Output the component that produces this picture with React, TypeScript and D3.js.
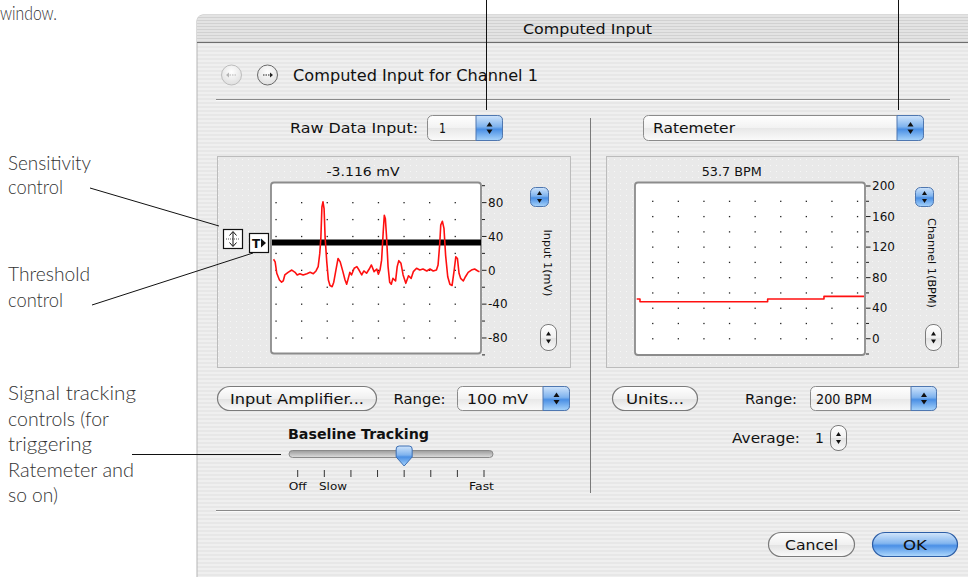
import React from "react";
import * as d3 from "d3";

// ---------- data ----------
const ecgTime = [0.01,0.04,0.07,0.12,0.16,0.19,0.22,0.28,0.35,0.41,0.45,0.50,0.56,0.63,0.69,0.75,0.80,0.84,0.87,0.89,0.91,0.93,0.95,0.97,1.00,1.03,1.06,1.10,1.13,1.17,1.21,1.25,1.30,1.34,1.37,1.40,1.43,1.46,1.51,1.56,1.60,1.65,1.69,1.74,1.79,1.83,1.88,1.93,1.96,1.99,2.02,2.05,2.07,2.09,2.11,2.14,2.17,2.20,2.23,2.28,2.31,2.34,2.38,2.42,2.47,2.52,2.57,2.61,2.67,2.73,2.79,2.86,2.92,2.98,3.04,3.07,3.10,3.12,3.15,3.18,3.21,3.25,3.29,3.33,3.37,3.40,3.43,3.46,3.49,3.54,3.58,3.63,3.69,3.75,3.81,3.84];
const ecgValue = [13,10,-3.5,-11.5,-14,-12.6,-5.5,-2.4,0.3,-2.4,-5.5,-4,-5.5,-4,-2.4,-4,-0.8,4.3,20,38,75,81,73,38,10,-11.5,-18,-19.4,-14,0.3,14,10,-1.6,-11.5,-16.5,-9.5,-2.4,-5.5,2.4,4.3,0.3,-5.5,-0.8,-3.5,1.5,6.3,-1.6,1.5,-4.7,0.3,12,45.6,65,61,41.7,4.3,-14,-16.5,-9.5,-12.6,4.3,11.4,8.3,-5.5,-15.4,-6.4,-9.5,-1.6,2.4,0.3,1.5,-0.8,1.5,-0.8,0.3,6.3,30,53.5,58,49.6,18,-7.6,-16.5,-18,0.3,16,14,-3.5,-9.5,-12.6,-7.6,-2.4,0.3,1.5,-0.8,-1.6];
const thresholdValue = 33;
const inputReadout = "-3.116 mV";

const rateTime = [0.22, 0.65, 17.3, 24.65, 30];
const rateValue = [52, 48.5, 52, 55.5, 55.5];
const rateReadout = "53.7 BPM";

const inputMajorTicks = [80, 40, 0, -40, -80];
const inputMinorTicks = [100, 60, 20, -20, -60, -100];
const inputGridRows = [80, 60, 40, 20, 0, -20, -40, -60, -80];
const rateMajorTicks = [200, 160, 120, 80, 40, 0];
const rateMinorTicks = [180, 140, 100, 60, 20, -20];
const rateGridRows = [180, 160, 140, 120, 100, 80, 60, 40, 20, 0];

const sliderSteps = [0, 1, 2, 3, 4, 5, 6, 7];
const sliderValue = 4;

// ---------- scales ----------
const xL = d3.scaleLinear().domain([0, 3.85]).range([273, 480]);
const yL = d3.scaleLinear().domain([-100, 100]).range([354.9, 185.7]);
const xR = d3.scaleLinear().domain([0, 30]).range([635, 865]);
const yR = d3.scaleLinear().domain([-20, 200]).range([354, 186]);
const xS = d3.scaleLinear().domain([0, 7]).range([297.7, 484]);

const UI = "'Lucida Grande', 'DejaVu Sans', sans-serif";
const ANN = "Lato, 'Open Sans', 'DejaVu Sans', sans-serif";

function Popup({ x, y, w, h, arrowW, label, textX, textW }: any) {
  const ax = x + w - arrowW;
  const r = 5;
  const cx = ax + arrowW / 2;
  const cy = y + h / 2;
  return (
    <g>
      <rect x={x + 0.5} y={y + 0.5} width={w - 1} height={h - 1} rx={r} fill="url(#popBody)" stroke="#8b8b8b" />
      <path
        d={`M${ax},${y + 0.5} H${x + w - r - 0.5} Q${x + w - 0.5},${y + 0.5} ${x + w - 0.5},${y + r + 0.5} V${y + h - r - 0.5} Q${x + w - 0.5},${y + h - 0.5} ${x + w - r - 0.5},${y + h - 0.5} H${ax} Z`}
        fill="url(#aquaBlue)" stroke="#4f77b0" />
      <path d={`M${cx - 3},${cy - 1.5} L${cx + 3},${cy - 1.5} L${cx},${cy - 6} Z`} fill="#111" />
      <path d={`M${cx - 3},${cy + 1.5} L${cx + 3},${cy + 1.5} L${cx},${cy + 6} Z`} fill="#111" />
      <text x={textX} y={cy + 5} fontFamily={UI} fontSize={14} fill="#111" textLength={textW} lengthAdjust="spacingAndGlyphs">{label}</text>
    </g>
  );
}

function Pill({ x, y, w, h, label, textW, blue }: any) {
  return (
    <g>
      <rect x={x + 0.5} y={y + 0.5} width={w - 1} height={h - 1} rx={h / 2} fill={blue ? "url(#aquaBluePill)" : "url(#btnBody)"} stroke={blue ? "#2d5ea6" : "#7b7b7b"} strokeWidth={1.2} />
      <text x={x + w / 2} y={y + h / 2 + 5} textAnchor="middle" fontFamily={UI} fontSize={14} fill="#111" textLength={textW} lengthAdjust="spacingAndGlyphs">{label}</text>
    </g>
  );
}

function Stepper({ x, y, w, h, blue }: any) {
  const cx = x + w / 2, cy = y + h / 2;
  return (
    <g>
      <rect x={x + 0.5} y={y + 0.5} width={w - 1} height={h - 1} rx={blue ? 5 : Math.min(w, h) / 2 - 1} fill={blue ? "url(#aquaBlue)" : "url(#btnBody)"} stroke={blue ? "#4f77b0" : "#7b7b7b"} />
      <path d={`M${cx - 2.5},${cy - 2} L${cx + 2.5},${cy - 2} L${cx},${cy - 6} Z`} fill="#111" />
      <path d={`M${cx - 2.5},${cy + 2} L${cx + 2.5},${cy + 2} L${cx},${cy + 6} Z`} fill="#111" />
    </g>
  );
}

function Plot({ x0, x1, y0, y1, xScale, yScale, times, values, curve, gridCols, gridRows, major, minor, readout, readoutX, readoutW, axisTitle, axisTitleX, axisTitleW, clipId, threshold }: any) {
  const line = d3.line<number>().x((_, i) => xScale(times[i])).y((d) => yScale(d)).curve(curve);
  const ax = x1 + 1;
  return (
    <g>
      <text x={readoutX} y={175.5} textAnchor="middle" fontFamily={UI} fontSize={12.5} fill="#111" textLength={readoutW} lengthAdjust="spacingAndGlyphs">{readout}</text>
      <rect x={x0} y={y0} width={x1 - x0} height={y1 - y0} rx={3} fill="#fff" stroke="#8c8c8c" strokeWidth={1.8} />
      <clipPath id={clipId}><rect x={x0 + 1} y={y0 + 1} width={x1 - x0 - 2} height={y1 - y0 - 2} /></clipPath>
      {gridRows.map((r: number) => gridCols.map((c: number) => (
        <rect key={`${r}-${c}`} x={c - 0.6} y={yScale(r) - 0.6} width={1.3} height={1.3} fill="#222" />
      )))}
      {threshold !== undefined && (
        <line x1={x0 + 1} x2={x1} y1={yScale(threshold)} y2={yScale(threshold)} stroke="#000" strokeWidth={6} />
      )}
      <path d={line(values) || ""} fill="none" stroke="#ff1010" strokeWidth={1.6} clipPath={`url(#${clipId})`} strokeLinejoin="round" />
      {minor.map((t: number) => (
        <line key={`mi${t}`} x1={ax} x2={ax + 3} y1={yScale(t)} y2={yScale(t)} stroke="#222" strokeWidth={1} />
      ))}
      {major.map((t: number) => (
        <g key={`ma${t}`}>
          <line x1={ax} x2={ax + 4.5} y1={yScale(t)} y2={yScale(t)} stroke="#222" strokeWidth={1} />
          <text x={ax + 6} y={yScale(t) + 4.3} fontFamily={UI} fontSize={12} fill="#111">{t < 0 ? "-" + Math.abs(t) : String(t)}</text>
        </g>
      ))}
      <text transform={`translate(${axisTitleX},${263}) rotate(90)`} textAnchor="middle" fontFamily={UI} fontSize={11} fill="#111" textLength={axisTitleW} lengthAdjust="spacingAndGlyphs">{axisTitle}</text>
    </g>
  );
}

export default function App() {
  const leftCols = d3.range(8).map((k) => 276 + 25.6 * k);
  const rightCols = d3.range(9).map((k) => 652.7 + 25.6 * k);
  const thumbX = xS(sliderValue);
  return (
    <svg width={968} height={577} viewBox="0 0 968 577" style={{ position: "absolute", left: 0, top: 0, display: "block" }}>
      <defs>
        <pattern id="stripes" width={4} height={4} patternUnits="userSpaceOnUse">
          <rect width={4} height={4} fill="#efefef" />
          <rect y={2} width={4} height={2} fill="#e7e7e7" />
        </pattern>
        <pattern id="titleStripes" width={3} height={3} patternUnits="userSpaceOnUse">
          <rect width={3} height={3} fill="#e3e3e3" />
          <rect y={2} width={3} height={1} fill="#d1d1d1" />
        </pattern>
        <pattern id="panelDots" width={6} height={6} patternUnits="userSpaceOnUse">
          <rect width={6} height={6} fill="#e9e9e9" />
          <rect x={2} y={3} width={1} height={1} fill="#f7f7f7" />
        </pattern>
        <linearGradient id="popBody" x1="0" y1="0" x2="0" y2="1">
          <stop offset="0" stopColor="#ffffff" />
          <stop offset="0.5" stopColor="#f2f2f2" />
          <stop offset="0.52" stopColor="#e8e8e8" />
          <stop offset="1" stopColor="#fbfbfb" />
        </linearGradient>
        <linearGradient id="btnBody" x1="0" y1="0" x2="0" y2="1">
          <stop offset="0" stopColor="#ffffff" />
          <stop offset="0.5" stopColor="#f0f0f0" />
          <stop offset="0.52" stopColor="#e2e2e2" />
          <stop offset="1" stopColor="#fafafa" />
        </linearGradient>
        <linearGradient id="aquaBlue" x1="0" y1="0" x2="0" y2="1">
          <stop offset="0" stopColor="#cfe4fb" />
          <stop offset="0.45" stopColor="#7fb3ee" />
          <stop offset="0.55" stopColor="#4a8fe4" />
          <stop offset="1" stopColor="#a8d4fb" />
        </linearGradient>
        <linearGradient id="aquaBluePill" x1="0" y1="0" x2="0" y2="1">
          <stop offset="0" stopColor="#d3e6fb" />
          <stop offset="0.45" stopColor="#84b6ef" />
          <stop offset="0.55" stopColor="#4b90e6" />
          <stop offset="1" stopColor="#b1dafd" />
        </linearGradient>
        <linearGradient id="track" x1="0" y1="0" x2="0" y2="1">
          <stop offset="0" stopColor="#9a9a9a" />
          <stop offset="1" stopColor="#dedede" />
        </linearGradient>
        <radialGradient id="navBtn" cx="0.5" cy="0.35" r="0.7">
          <stop offset="0" stopColor="#ffffff" />
          <stop offset="1" stopColor="#dcdcdc" />
        </radialGradient>
      </defs>

      <rect width={968} height={577} fill="#fff" />

      {/* window */}
      <rect x={197} y={15} width={800} height={600} rx={6} fill="url(#stripes)" stroke="#b5b5b5" />
      <path d="M197,42 V21 Q197,15 203,15 H968 V42 Z" fill="url(#titleStripes)" />
      <line x1={197} x2={968} y1={42.5} y2={42.5} stroke="#6e6e6e" />
      <text x={587.5} y={34} textAnchor="middle" fontFamily={UI} fontSize={14.5} fill="#111" textLength={129} lengthAdjust="spacingAndGlyphs">Computed Input</text>

      {/* nav */}
      <circle cx={231.5} cy={75} r={10} fill="url(#navBtn)" stroke="#bdbdbd" />
      <line x1={227} x2={236} y1={75} y2={75} stroke="#b5b5b5" strokeDasharray="1.5 1" />
      <path d="M226,75 L229,72.5 L229,77.5 Z" fill="#b5b5b5" />
      <circle cx={267.5} cy={75} r={10} fill="url(#navBtn)" stroke="#6a6a6a" />
      <line x1={263} x2={270} y1={75} y2={75} stroke="#222" strokeDasharray="1.5 1" />
      <path d="M273,75 L270,72.5 L270,77.5 Z" fill="#222" />
      <text x={293} y={80.5} fontFamily={UI} fontSize={15} fill="#111" textLength={245} lengthAdjust="spacingAndGlyphs">Computed Input for Channel 1</text>

      <line x1={216} x2={950} y1={99.5} y2={99.5} stroke="#8a8a8a" />
      <line x1={216} x2={950} y1={100.5} y2={100.5} stroke="#fafafa" />

      {/* top row */}
      <text x={290} y={133} fontFamily={UI} fontSize={14} fill="#111" textLength={128} lengthAdjust="spacingAndGlyphs">Raw Data Input:</text>
      <Popup x={427} y={115} w={76} h={26} arrowW={27} label="1" textX={439} textW={7} />
      <Popup x={643} y={115} w={281} h={26} arrowW={27} label="Ratemeter" textX={653} textW={82} />

      <line x1={590.5} x2={590.5} y1={118} y2={493} stroke="#7a7a7a" />

      {/* panels */}
      <rect x={217.5} y={156.5} width={353} height={211} fill="url(#panelDots)" stroke="#bcbcbc" />
      <rect x={606.5} y={156.5} width={352} height={211} fill="url(#panelDots)" stroke="#bcbcbc" />

      <Plot x0={271} x1={481} y0={182.5} y1={353.5} xScale={xL} yScale={yL} times={ecgTime} values={ecgValue}
        curve={d3.curveLinear} gridCols={leftCols} gridRows={inputGridRows} major={inputMajorTicks} minor={inputMinorTicks}
        readout={inputReadout} readoutX={363} readoutW={73} axisTitle="Input 1(mV)" axisTitleX={544} axisTitleW={67}
        clipId="clipL" threshold={thresholdValue} />
      <Plot x0={635} x1={865} y0={182.5} y1={355} xScale={xR} yScale={yR} times={rateTime} values={rateValue}
        curve={d3.curveStepAfter} gridCols={rightCols} gridRows={rateGridRows} major={rateMajorTicks} minor={rateMinorTicks}
        readout={rateReadout} readoutX={731.7} readoutW={60} axisTitle="Channel 1(BPM)" axisTitleX={928} axisTitleW={90}
        clipId="clipR" />

      {/* sensitivity & threshold controls */}
      <rect x={223.5} y={229.5} width={19} height={19} fill="#fff" stroke="#111" strokeWidth={1.2} />
      <line x1={226} x2={240} y1={239} y2={239} stroke="#555" strokeDasharray="1 1" />
      <line x1={233} x2={233} y1={232} y2={246} stroke="#111" />
      <path d="M233,231.5 L229.5,235.5 M233,231.5 L236.5,235.5 M233,246.5 L229.5,242.5 M233,246.5 L236.5,242.5" stroke="#111" fill="none" />
      <rect x={249.5} y={233.5} width={19} height={19} fill="#fff" stroke="#111" strokeWidth={1.2} />
      <text x={252} y={248} fontFamily={UI} fontSize={12} fontWeight="bold" fill="#111">T</text>
      <path d="M261,238.5 L266,243 L261,247.5 Z" fill="#111" />

      <Stepper x={530} y={187} w={19} h={20} blue />
      <Stepper x={540} y={324} w={17} h={27} />
      <Stepper x={915} y={187} w={19} h={20} blue />
      <Stepper x={925} y={324} w={17} h={27} />

      {/* bottom left */}
      <Pill x={217} y={386} w={160} h={25} label="Input Amplifier..." textW={134} />
      <text x={393.5} y={403.5} fontFamily={UI} fontSize={14} fill="#111" textLength={52} lengthAdjust="spacingAndGlyphs">Range:</text>
      <Popup x={457} y={386} w={113} h={25} arrowW={27} label="100 mV" textX={467} textW={61} />

      <text x={288} y={438.5} fontFamily={UI} fontSize={13.5} fontWeight="bold" fill="#111" textLength={141} lengthAdjust="spacingAndGlyphs">Baseline Tracking</text>
      <rect x={289} y={450.5} width={204} height={7} rx={3.5} fill="url(#track)" stroke="#8a8a8a" />
      {sliderSteps.map((s) => (
        <line key={s} x1={xS(s)} x2={xS(s)} y1={470} y2={477} stroke="#333" />
      ))}
      <path d={`M${thumbX - 8},449 Q${thumbX - 8},446 ${thumbX - 5},446 H${thumbX + 5} Q${thumbX + 8},446 ${thumbX + 8},449 V457 L${thumbX},466 L${thumbX - 8},457 Z`} fill="url(#aquaBlue)" stroke="#3d6fb3" />
      <text x={xS(0)} y={490} textAnchor="middle" fontFamily={UI} fontSize={11} fill="#111" textLength={18} lengthAdjust="spacingAndGlyphs">Off</text>
      <text x={319} y={490} fontFamily={UI} fontSize={11} fill="#111" textLength={28} lengthAdjust="spacingAndGlyphs">Slow</text>
      <text x={494} y={490} textAnchor="end" fontFamily={UI} fontSize={11} fill="#111" textLength={25} lengthAdjust="spacingAndGlyphs">Fast</text>

      {/* bottom right */}
      <Pill x={612} y={386} w={86} h={25} label="Units..." textW={58} />
      <text x={745} y={403.5} fontFamily={UI} fontSize={14} fill="#111" textLength={52} lengthAdjust="spacingAndGlyphs">Range:</text>
      <Popup x={810} y={386} w={127} h={25} arrowW={26} label="200 BPM" textX={816} textW={56} />
      <text x={732} y={443} fontFamily={UI} fontSize={14} fill="#111" textLength={68} lengthAdjust="spacingAndGlyphs">Average:</text>
      <text x={815} y={443} fontFamily={UI} fontSize={14} fill="#111">1</text>
      <Stepper x={830} y={425} w={17} h={26} />

      <line x1={216} x2={960} y1={510.5} y2={510.5} stroke="#8a8a8a" />
      <line x1={216} x2={960} y1={511.5} y2={511.5} stroke="#fafafa" />

      <Pill x={768} y={532} w={87} h={25} label="Cancel" textW={53} />
      <Pill x={872} y={532} w={86} h={25} label="OK" textW={24} blue />

      {/* annotations */}
      <line x1={486.5} x2={486.5} y1={0} y2={110} stroke="#111" />
      <line x1={898.5} x2={898.5} y1={0} y2={110} stroke="#111" />
      <text x={0} y={20} fontFamily={ANN} fontWeight={300} fontSize={19} fill="#333" textLength={57} lengthAdjust="spacingAndGlyphs">window.</text>

      <text x={8} y={170} fontFamily={ANN} fontWeight={300} fontSize={19} fill="#333" textLength={83} lengthAdjust="spacingAndGlyphs">Sensitivity</text>
      <text x={8} y={194} fontFamily={ANN} fontWeight={300} fontSize={19} fill="#333" textLength={55} lengthAdjust="spacingAndGlyphs">control</text>
      <line x1={90} y1={188} x2={219} y2={226} stroke="#111" />

      <text x={8} y={281} fontFamily={ANN} fontWeight={300} fontSize={19} fill="#333" textLength={82} lengthAdjust="spacingAndGlyphs">Threshold</text>
      <text x={8} y={307} fontFamily={ANN} fontWeight={300} fontSize={19} fill="#333" textLength={55} lengthAdjust="spacingAndGlyphs">control</text>
      <line x1={92} y1={305} x2={253} y2={253} stroke="#111" />

      <text x={8} y={400} fontFamily={ANN} fontWeight={300} fontSize={19} fill="#333" textLength={128} lengthAdjust="spacingAndGlyphs">Signal tracking</text>
      <text x={8} y={426} fontFamily={ANN} fontWeight={300} fontSize={19} fill="#333" textLength={101} lengthAdjust="spacingAndGlyphs">controls (for</text>
      <text x={8} y={451} fontFamily={ANN} fontWeight={300} fontSize={19} fill="#333" textLength={84} lengthAdjust="spacingAndGlyphs">triggering</text>
      <text x={8} y={477} fontFamily={ANN} fontWeight={300} fontSize={19} fill="#333" textLength={126} lengthAdjust="spacingAndGlyphs">Ratemeter and</text>
      <text x={8} y={502} fontFamily={ANN} fontWeight={300} fontSize={19} fill="#333" textLength={50} lengthAdjust="spacingAndGlyphs">so on)</text>
      <line x1={132} x2={281} y1={454.5} y2={454.5} stroke="#111" />
    </svg>
  );
}
